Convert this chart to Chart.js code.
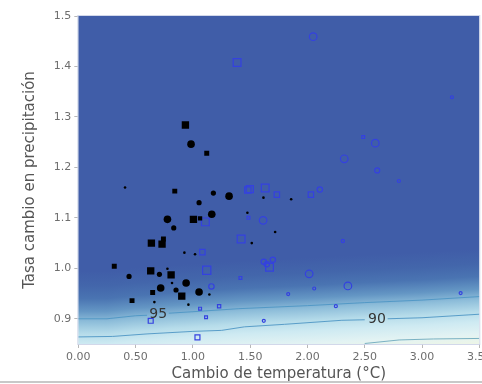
<!DOCTYPE html>
<html><head><meta charset="utf-8">
<script src="https://cdn.jsdelivr.net/npm/chart.js@4"></script>
<style>
html,body{margin:0;padding:0;overflow:hidden;background:#fff;width:482px;height:384px}
#wrap{position:absolute;left:0;top:0;width:500px;height:384px}
#bline{position:absolute;left:0;top:381px;width:482px;height:2px;background:#c8c8c8}
</style></head><body>
<div id="wrap"><canvas id="c" width="500" height="384"></canvas></div>
<div id="bline"></div>
<script>
// ---- Data ----
const xTicks = [0, 0.5, 1.0, 1.5, 2.0, 2.5, 3.0, 3.5];
const yTicks = [0.9, 1.0, 1.1, 1.2, 1.3, 1.4, 1.5];

const blackSqX = [0.935,1.121,0.842,1.005,1.063,0.743,0.638,0.731,0.314,0.632,0.810,0.649,0.903,0.469];
const blackSqY = [1.284,1.228,1.153,1.097,1.099,1.058,1.050,1.048,1.004,0.995,0.987,0.952,0.945,0.936];
const blackSqR = [5.2,3.5,3.5,5.2,3.0,3.5,5.2,5.2,3.5,5.2,5.2,3.5,5.2,3.5];

const blackCiX = [0.984,1.179,1.316,1.054,1.165,0.778,0.833,0.408,1.616,1.858,1.476,1.718,1.514,0.926,1.019,0.778,0.443,0.708,0.818,0.941,0.719,0.853,1.054,1.144,0.664,0.961];
const blackCiY = [1.246,1.149,1.143,1.130,1.107,1.097,1.080,1.160,1.140,1.137,1.110,1.072,1.050,1.031,1.028,0.999,0.984,0.988,0.971,0.971,0.961,0.957,0.953,0.948,0.933,0.928];
const blackCiR = [3.8,2.6,3.8,2.6,3.8,3.8,2.6,1.3,1.3,1.3,1.3,1.3,1.3,1.3,1.3,1.3,2.6,2.6,1.3,3.8,3.8,2.6,3.8,1.3,1.3,1.3];

const blueSqX = [1.386,1.480,1.497,1.631,1.733,2.030,1.109,1.421,1.083,1.121,1.669,2.487,1.485,1.063,1.115,1.229,0.632,1.040,1.415];
const blueSqY = [1.408,1.155,1.157,1.159,1.146,1.146,1.092,1.058,1.032,0.996,1.002,1.260,1.100,0.920,0.903,0.925,0.896,0.863,0.981];
const blueSqR = [5.5,4.5,5.0,5.5,3.8,3.8,5.5,5.5,3.8,5.8,5.5,2.0,2.0,2.0,2.0,2.3,3.5,3.5,2.0];

const blueCiX = [2.050,2.321,2.592,2.609,2.798,2.108,1.613,3.261,2.309,1.619,1.645,1.698,2.015,2.353,1.162,1.832,2.059,2.248,3.337,1.619];
const blueCiY = [1.459,1.217,1.248,1.194,1.173,1.156,1.095,1.339,1.054,1.013,1.008,1.017,0.989,0.965,0.964,0.949,0.960,0.925,0.951,0.896];
const blueCiR = [3.8,3.8,3.8,2.5,1.5,2.7,3.8,1.5,1.6,2.7,2.7,2.7,3.8,3.8,2.7,1.5,1.5,1.5,1.5,1.5];

// contour lines (null = gap for label)
const c95X = [0, 0.25, 0.5, 0.6, 0.7, 0.79, 1.0, 1.4, 2.0, 2.5, 3.0, 3.5];
const c95Y = [0.900, 0.900, 0.906, 0.907, null, 0.911, 0.914, 0.920, 0.926, 0.932, 0.937, 0.944];
const c90X = [0, 0.3, 0.6, 1.0, 1.25, 1.45, 1.8, 2.3, 2.5, 2.6, 2.7, 3.0, 3.5];
const c90Y = [0.864, 0.865, 0.870, 0.875, 0.877, 0.884, 0.889, 0.897, 0.898, null, 0.900, 0.902, 0.909];
const c85X = [2.5, 2.8, 3.1, 3.5];
const c85Y = [0.851, 0.858, 0.860, 0.861];
const contourLabels = ['95', '90'];
const contourLabelX = [0.698, 2.607];
const contourLabelY = [0.908, 0.899];

// ---- Helpers ----
const pts = (xs, ys) => xs.map((x, i) => ({x: x, y: ys[i]}));
const c95Clean = c95X.map((x,i)=>[x,c95Y[i]]).filter(p=>p[1]!==null);
function c95At(x){
  for (let i=0;i<c95Clean.length-1;i++){
    const a=c95Clean[i], b=c95Clean[i+1];
    if (x<=b[0]) { const t=(x-a[0])/(b[0]-a[0]); return a[1]+t*(b[1]-a[1]); }
  }
  return c95Clean[c95Clean.length-1][1];
}
// color stops relative to 95 contour (d = y - c95)
const bgStops = [
  [0.095,'rgb(64,93,168)'],
  [0.065,'rgb(67,102,171)'],
  [0.04,'rgb(74,116,178)'],
  [0.015,'rgb(100,150,196)'],
  [-0.005,'rgb(140,188,217)'],
  [-0.03,'rgb(182,220,234)'],
  [-0.05,'rgb(206,234,242)'],
  [-0.075,'rgb(227,243,243)'],
  [-0.1,'rgb(240,246,226)']
];

const bgPlugin = {
  id:'bg',
  beforeDatasetsDraw(chart){
    const {ctx, chartArea:a, scales:{x, y}} = chart;
    ctx.save();
    for (let px=Math.floor(a.left); px<Math.ceil(a.right); px++){
      const xv = x.getValueForPixel(px+0.5);
      const c = c95At(xv);
      const top = y.getPixelForValue(c+bgStops[0][0]);
      const bot = y.getPixelForValue(c+bgStops[bgStops.length-1][0]);
      const g = ctx.createLinearGradient(0, top, 0, bot);
      bgStops.forEach(s=>{ g.addColorStop((y.getPixelForValue(c+s[0])-top)/(bot-top), s[1]); });
      ctx.fillStyle = g;
      const l = Math.max(px, a.left), r = Math.min(px+1, a.right);
      ctx.fillRect(l, a.top, r-l, a.bottom-a.top);
    }
    ctx.strokeStyle='rgba(205,212,232,0.9)';
    ctx.lineWidth=1;
    ctx.strokeRect(a.left-0.5, a.top-0.5, a.right-a.left+1, a.bottom-a.top+1);
    ctx.restore();
  }
};
const labelPlugin = {
  id:'clabels',
  afterDatasetsDraw(chart){
    const {ctx, scales:{x, y}} = chart;
    ctx.save();
    ctx.font = '14px "DejaVu Sans"';
    ctx.fillStyle = '#333';
    ctx.textAlign='center'; ctx.textBaseline='middle';
    contourLabels.forEach((t,i)=>ctx.fillText(t, x.getPixelForValue(contourLabelX[i]), y.getPixelForValue(contourLabelY[i])));
    ctx.restore();
  }
};

const contourStyle = {type:'line', showLine:true, pointRadius:0, borderWidth:1, borderColor:'rgba(78,150,196,0.9)', spanGaps:false, fill:false, order:10, tension:0};
const blue = '#3441e0';

new Chart(document.getElementById('c'), {
  type:'scatter',
  data:{ datasets:[
    Object.assign({data: pts(c95X,c95Y)}, contourStyle),
    Object.assign({data: pts(c90X,c90Y)}, contourStyle),
    Object.assign({data: pts(c85X,c85Y)}, contourStyle, {borderColor:'rgba(110,170,190,0.9)'}),
    {data: pts(blueSqX,blueSqY), pointStyle:'rect', pointRadius: blueSqR, backgroundColor:'rgba(0,0,0,0)', borderColor:blue, borderWidth:1.2, order:3},
    {data: pts(blueCiX,blueCiY), pointStyle:'circle', pointRadius: blueCiR, backgroundColor:'rgba(0,0,0,0)', borderColor:blue, borderWidth:1.2, order:3},
    {data: pts(blackSqX,blackSqY), pointStyle:'rect', pointRadius: blackSqR, backgroundColor:'#000', borderColor:'#000', borderWidth:0, order:1},
    {data: pts(blackCiX,blackCiY), pointStyle:'circle', pointRadius: blackCiR, backgroundColor:'#000', borderColor:'#000', borderWidth:0, order:1}
  ]},
  options:{
    responsive:false, devicePixelRatio:1, animation:false, events:[],
    layout:{padding:{top:16, right:20.7, left:0, bottom:0}},
    plugins:{legend:{display:false}, tooltip:{enabled:false}},
    scales:{
      x:{
        type:'linear', min:0, max:3.5,
        afterFit(s){ s.height = 40; },
        afterBuildTicks(s){ s.ticks = xTicks.map(v=>({value:v})); },
        ticks:{ includeBounds:false, callback:v=>Number(v).toFixed(2), color:'#6e6e6e', font:{family:'"DejaVu Sans"', size:11}, padding:3, maxRotation:0, autoSkip:false },
        grid:{ drawOnChartArea:false, drawTicks:true, tickLength:4, color:'#b8b8b8' },
        border:{display:false},
        title:{ display:true, text:'Cambio de temperatura (°C)', color:'#555', font:{family:'"DejaVu Sans"', size:15}, padding:{top:0,bottom:1} }
      },
      y:{
        type:'linear', min:0.85, max:1.5,
        afterFit(s){ s.width = 78.3; },
        afterBuildTicks(s){ s.ticks = yTicks.map(v=>({value:v})); },
        ticks:{ includeBounds:false, callback:v=>Number(v).toFixed(1), color:'#6e6e6e', font:{family:'"DejaVu Sans"', size:11}, padding:3, autoSkip:false },
        grid:{ drawOnChartArea:false, drawTicks:true, tickLength:4, color:'#b8b8b8' },
        border:{display:false},
        title:{ display:true, text:'Tasa cambio en precipitación', color:'#555', font:{family:'"DejaVu Sans"', size:15}, padding:{top:21,bottom:0} }
      }
    }
  },
  plugins:[bgPlugin, labelPlugin]
});
</script></body></html>
